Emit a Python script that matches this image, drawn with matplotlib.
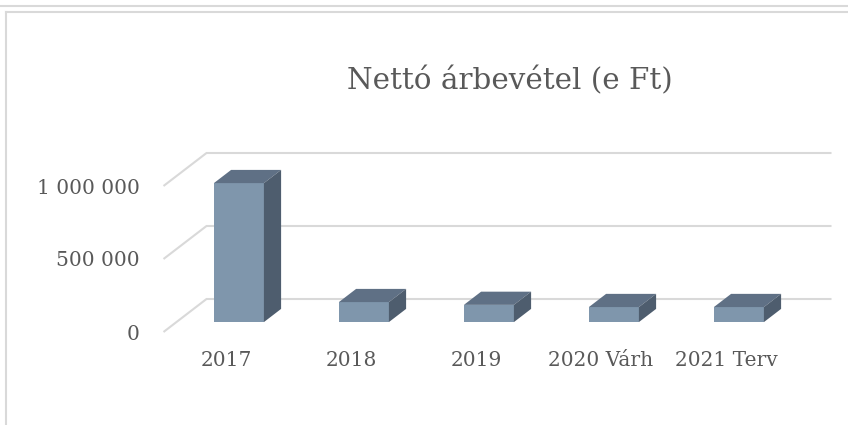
import matplotlib
matplotlib.use("Agg")
import matplotlib.pyplot as plt
from matplotlib.patches import Rectangle, Polygon
from matplotlib.lines import Line2D
import matplotlib.transforms as mtransforms

# chart data
categories = ["2017", "2018", "2019", "2020 Várh", "2021 Terv"]
revenue = [952000, 137000, 118000, 103000, 103000]
tick_values = [0, 500000, 1000000]
tick_labels = ["0", "500 000", "1 000 000"]
title = "Nettó árbevétel (e Ft)"

FRONT = "#7F96AC"
TOP = "#5F7085"
SIDE = "#4E5D6E"
GRID = "#D9D9D9"
TEXT = "#595959"
FONT = "DejaVu Serif"

W, H = 848, 425
fig = plt.figure(figsize=(W / 100, H / 100), dpi=100)
fig.patch.set_facecolor("white")

# front plane of the fake 3d box, in pixels
ax = fig.add_axes([163.5 / W, (H - 332) / H, 625 / W, 146 / H])
ax.set_xlim(-0.5, len(categories) - 0.5)
ax.set_ylim(0, 1000000)
ax.patch.set_visible(False)
for s in ax.spines.values():
    s.set_visible(False)

# oblique depth vector (full floor depth) in data units
DX = 43 / 125
DY = 33 / 146 * 1000000
bw = 0.4
d_front, d_back = 0.3, 0.7

# back wall gridlines + side wall diagonals
x_left, x_right = ax.get_xlim()
for v in tick_values:
    ax.plot([x_left, x_left + DX, x_right + DX], [v, v + DY, v + DY],
            color=GRID, lw=1.5, clip_on=False, zorder=1, solid_capstyle="butt")

# bars
ox, oy = d_front * DX, d_front * DY
ddx, ddy = (d_back - d_front) * DX, (d_back - d_front) * DY
for i, v in enumerate(revenue):
    x0 = i + ox - bw / 2
    y0 = oy
    ax.add_patch(Rectangle((x0, y0), bw, v, facecolor=FRONT, edgecolor="none",
                           clip_on=False, zorder=3))
    ax.add_patch(Polygon([(x0, y0 + v), (x0 + bw, y0 + v),
                          (x0 + bw + ddx, y0 + v + ddy), (x0 + ddx, y0 + v + ddy)],
                         closed=True, facecolor=TOP, edgecolor="none",
                         clip_on=False, zorder=3))
    ax.add_patch(Polygon([(x0 + bw, y0), (x0 + bw + ddx, y0 + ddy),
                          (x0 + bw + ddx, y0 + v + ddy), (x0 + bw, y0 + v)],
                         closed=True, facecolor=SIDE, edgecolor="none",
                         clip_on=False, zorder=3))

# axis labels
ax.set_yticks(tick_values)
ax.set_yticklabels(tick_labels, fontfamily=FONT, fontsize=14.5, color=TEXT)
ax.tick_params(axis="y", length=0, pad=17)
ax.set_xticks([])
lab_tr = mtransforms.offset_copy(ax.transData, fig=fig, x=0, y=-29, units="dots")
for i, c in enumerate(categories):
    ax.text(i, 0, c, transform=lab_tr, ha="center", va="center",
            fontfamily=FONT, fontsize=14.5, color=TEXT)

fig.text(510 / W, 1 - 81 / H, title, ha="center", va="center",
         fontfamily=FONT, fontsize=21.2, color=TEXT)

# frame lines of the chart area
fig.add_artist(Line2D([0, 1], [1 - 6 / H, 1 - 6 / H], transform=fig.transFigure,
                      color=GRID, lw=1.5))
fig.add_artist(Line2D([6 / W, 1], [1 - 12 / H, 1 - 12 / H], transform=fig.transFigure,
                      color=GRID, lw=1.5))
fig.add_artist(Line2D([6 / W, 6 / W], [1 - 12 / H, 0], transform=fig.transFigure,
                      color=GRID, lw=1.5))

fig.savefig("out.png", dpi=100)
